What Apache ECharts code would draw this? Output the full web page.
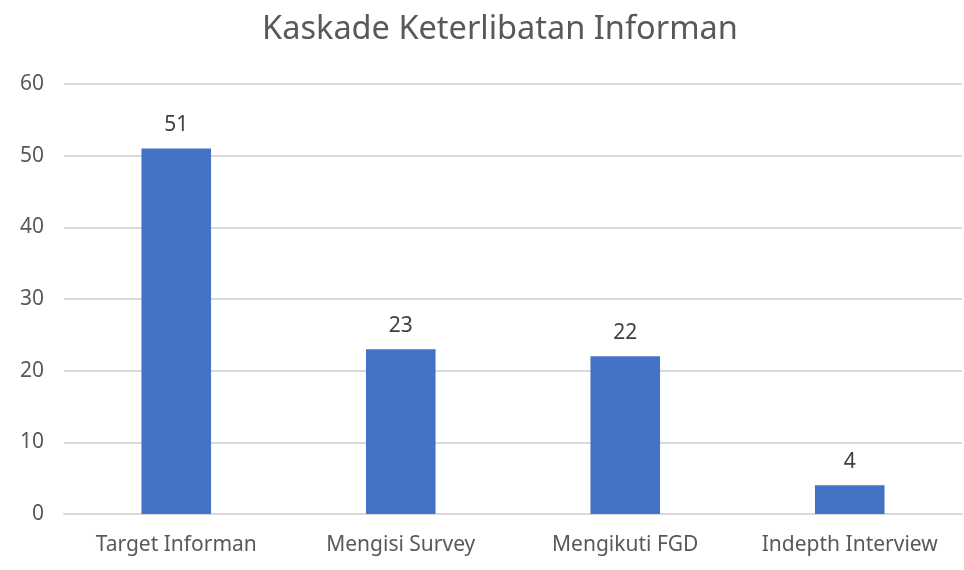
<!DOCTYPE html>
<html><head><meta charset="utf-8">
<script src="https://cdn.jsdelivr.net/npm/echarts@6/dist/echarts.min.js"></script>
<style>html,body{margin:0;padding:0;background:#fff}#c{width:964px;height:570px}</style>
</head><body><div id="c"></div>
<script>
const title = "Kaskade Keterlibatan Informan";
const categories = ["Target Informan", "Mengisi Survey", "Mengikuti FGD", "Indepth Interview"];
const values = [51, 23, 22, 4];
const yTicks = [0, 10, 20, 30, 40, 50, 60];

const chart = echarts.init(document.getElementById('c'), null, {renderer: 'canvas'});
const font = "'Noto Sans', 'Open Sans', sans-serif";
chart.setOption({
  animation: false,
  backgroundColor: '#fff',
  title: {
    text: title, left: 495, top: 8, textAlign: 'center',
    textStyle: {fontFamily: font, fontSize: 32.5, fontWeight: 'normal', color: '#595959'}
  },
  grid: {left: 64, right: 2, top: 84, bottom: 56},
  xAxis: {
    type: 'category', data: categories,
    axisLine: {show: true, lineStyle: {color: '#d9d9d9', width: 2}},
    axisTick: {show: false},
    axisLabel: {interval: 0, fontFamily: font, fontSize: 21, color: '#595959', margin: 21}
  },
  yAxis: {
    type: 'value', min: yTicks[0], max: yTicks[yTicks.length - 1], interval: 10,
    axisLine: {show: false}, axisTick: {show: false},
    splitLine: {lineStyle: {color: '#d9d9d9', width: 2}},
    axisLabel: {fontFamily: font, fontSize: 21, color: '#595959', margin: 20}
  },
  series: [{
    type: 'bar', data: values, barWidth: '31%',
    itemStyle: {color: '#4472c4'},
    label: {show: true, position: 'top', distance: 13, fontFamily: font, fontSize: 21, color: '#404040'}
  }]
});
</script></body></html>
